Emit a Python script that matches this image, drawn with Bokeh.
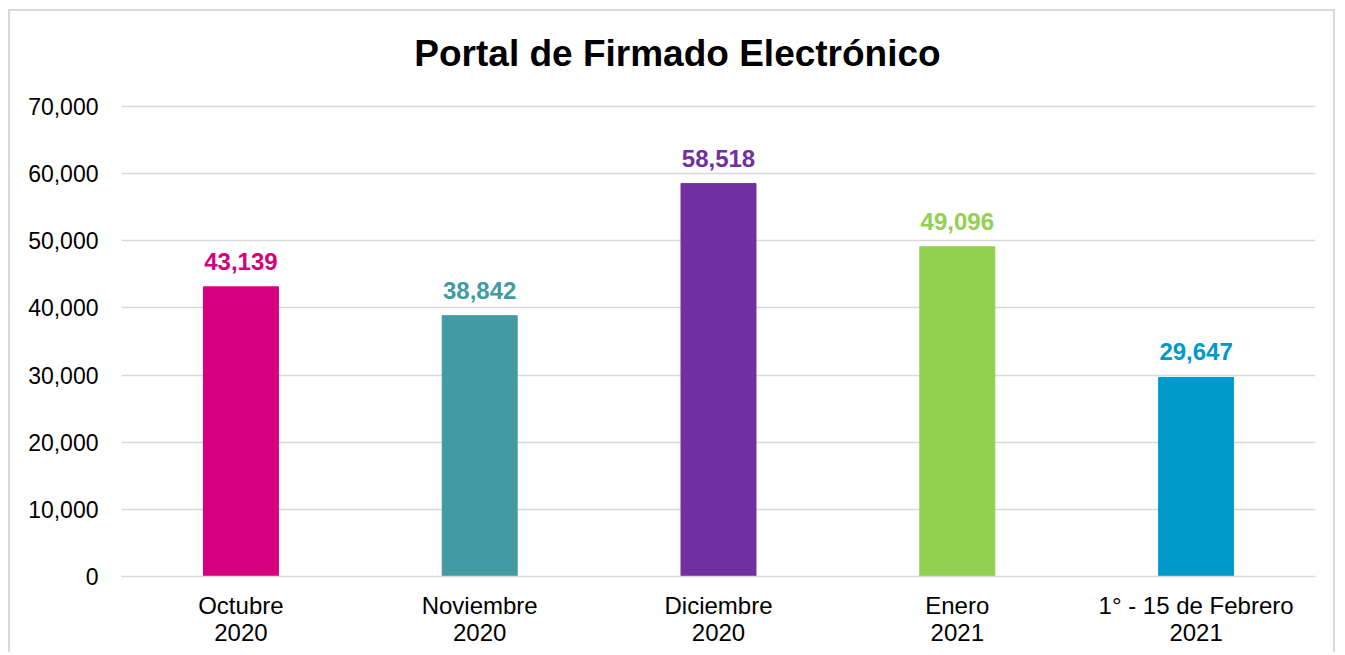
from bokeh.plotting import figure
from bokeh.models import ColumnDataSource, NumeralTickFormatter, Range1d, LabelSet
from bokeh.core.properties import value
from bokeh.embed import file_html
from bokeh.resources import INLINE

title = "Portal de Firmado Electrónico"
categories = ["Octubre\n2020", "Noviembre\n2020", "Diciembre\n2020", "Enero\n2021", "1° - 15 de Febrero\n2021"]
values = [43139, 38842, 58518, 49096, 29647]
colors = ["#D6007E", "#429BA3", "#7030A0", "#92D050", "#0099CC"]
labels = ["43,139", "38,842", "58,518", "49,096", "29,647"]
y_ticks = [0, 10000, 20000, 30000, 40000, 50000, 60000, 70000]

# layout (pixels): frame spans from canvas top to the zero line
frame_px = 565          # frame height
axis_px = 470           # pixels from 0 to 70,000
y_top = 70000 * frame_px / axis_px
title_y = 70000 * 523 / axis_px

src = ColumnDataSource(dict(cat=categories, val=values, col=colors, lab=labels))

p = figure(x_range=categories, width=1327, height=643, output_backend="svg",
           toolbar_location=None,
           min_border_left=111, min_border_right=22, min_border_top=0, min_border_bottom=78)
p.y_range = Range1d(0, y_top)
p.margin = (9, 0, 0, 8)
p.styles = {"border": "2px solid #D9D9D9", "border-bottom": "none"}

p.vbar(x="cat", top="val", width=0.314, color="col", source=src)
p.add_layout(LabelSet(x="cat", y="val", text="lab", source=src, text_color="col",
                      text_font=value("Liberation Sans"), text_font_size=value("24px"),
                      text_font_style="bold",
                      text_align="center", text_baseline="alphabetic", y_offset=17))

tsrc = ColumnDataSource(dict(x=[categories[2]], y=[title_y], t=[title]))
p.text(x="x", y="y", text="t", source=tsrc, x_offset=-41,
       text_font=value("Liberation Sans"), text_font_size=value("37px"),
       text_font_style="bold", text_color="#000000",
       text_align="center", text_baseline="middle")

p.outline_line_color = None
p.border_fill_color = "white"
p.background_fill_color = "white"

p.xgrid.grid_line_color = None
p.ygrid.grid_line_color = "#D9D9D9"
p.ygrid.grid_line_width = 1.5

p.yaxis.formatter = NumeralTickFormatter(format="0,0")
p.yaxis.ticker = y_ticks
for ax in (p.xaxis, p.yaxis):
    ax.major_tick_line_color = None
    ax.minor_tick_line_color = None
    ax.major_tick_out = 0
    ax.major_tick_in = 0
    ax.minor_tick_out = 0
    ax.major_label_text_font = "Liberation Sans"
    ax.major_label_text_color = "#000000"
p.yaxis.major_label_text_font_size = "23px"
p.xaxis.major_label_text_font_size = "24px"
p.xaxis.major_label_text_line_height = 1.0
p.yaxis.axis_line_color = None
p.yaxis.major_label_standoff = 23
p.xaxis.axis_line_color = "#D9D9D9"
p.xaxis.axis_line_width = 1.5
p.xaxis.major_label_standoff = 15

open("out.html", "w").write(file_html(p, INLINE))
